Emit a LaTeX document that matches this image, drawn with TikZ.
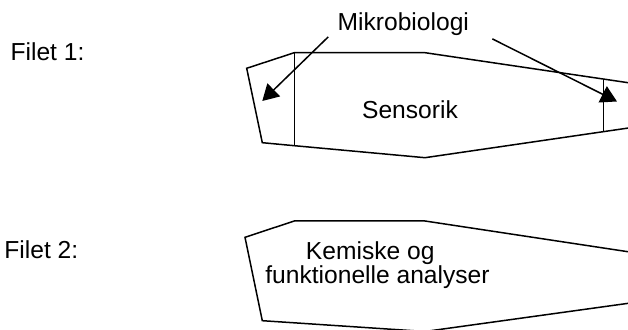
\documentclass[tikz,border=0pt]{standalone}
\usepackage{fontspec}
\setmainfont{Liberation Sans}
\usetikzlibrary{arrows.meta}

\begin{document}
\begin{tikzpicture}[x=0.5pt,y=-0.5pt,
    outline/.style={line width=0.75pt,line join=miter},
    pointer/.style={line width=0.75pt,-{Triangle[length=8pt,width=9pt]}},
    txt/.style={font=\fontsize{12.3}{12.3}\selectfont,inner sep=1pt}]

% page frame (clips the shapes running off the right edge)
\clip (0,0) rectangle (628,330);

% ---- row labels ----
\node[txt] (filet1) at (47.5,51.7) {Filet 1:};
\node[txt] (filet2) at (41.3,250) {Filet 2:};

% ---- filet 1 ----
\draw[outline] (246.7,68.3) -- (294.3,52.7) -- (425,52.7) -- (645,85.2)
    -- (645,125.6) -- (425,157.7) -- (294.3,145.7) -- (262.3,142.7) -- cycle;
% end zones
\draw[outline] (294.3,52.7) -- (294.3,145.7);
\draw[outline] (603.3,79.4) -- (603.3,130.9);

\node[txt] (sens) at (410,110) {Sensorik};
\node[txt] (mikro) at (403.3,24) {Mikrobiologi};

\coordinate (tipL) at (262.3,101);
\coordinate (tipR) at (617,101.5);
\draw[pointer] ([xshift=-3.5pt,yshift=0.5pt]mikro.south west) -- (tipL);
\draw[pointer] ([xshift=10.5pt,yshift=-0.5pt]mikro.south east) -- (tipR);

% ---- filet 2 ----
\draw[outline] (245,237.3) -- (294.3,221) -- (425,221) -- (645,254.3)
    -- (645,301) -- (425,331.5) -- (262.3,320.7) -- cycle;

\node[txt,align=left] (kemi) at (377.5,265.3)
    {\hspace*{20.3pt}Kemiske og\\funktionelle analyser};

\end{tikzpicture}
\end{document}
